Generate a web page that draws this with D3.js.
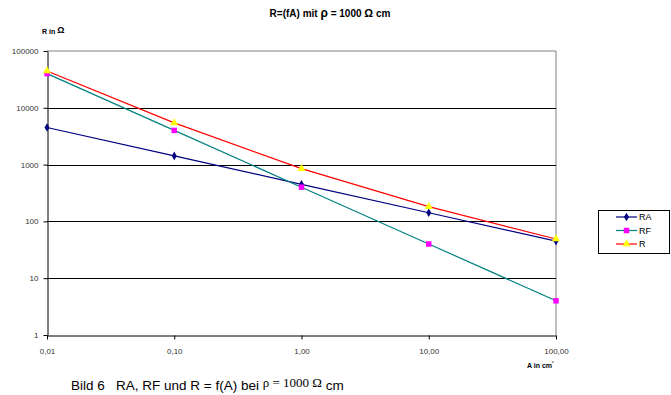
<!DOCTYPE html>
<html>
<head>
<meta charset="utf-8">
<script src="https://cdn.jsdelivr.net/npm/d3@7"></script>
<style>
  body { margin: 0; background: #fff; }
  svg { font-family: "Liberation Sans", Arial, sans-serif; }
</style>
</head>
<body>
<div id="main"></div>
<script>
const ctx = {
    w: 671,
    h: 395,
    left: 47,
    right: 556,
    top: 51,
    bottom: 335
};

// data
const areas = [0.01, 0.1, 1, 10, 100];
const raValues = [4500, 1420, 450, 142, 45];
const rfValues = [40000, 4000, 400, 40, 4];
const rValues = [44500, 5420, 850, 182, 49];
const xTickLabels = ["0,01", "0,10", "1,00", "10,00", "100,00"];
const yTicks = [1, 10, 100, 1000, 10000, 100000];

const series = [
    {name: "RA", values: raValues, line: "#000080", fill: "#000080", symbol: d3.symbolDiamond, size: 22},
    {name: "RF", values: rfValues, line: "#008080", fill: "#ff00ff", symbol: d3.symbolSquare, size: 30},
    {name: "R", values: rValues, line: "#ff0000", fill: "#ffff00", symbol: d3.symbolTriangle, size: 28}
];

function createViz(){
    let svg = d3.select("#main").append("svg")
        .attr("width", ctx.w)
        .attr("height", ctx.h);

    let x = d3.scaleLog().domain([0.01, 100]).range([ctx.left, ctx.right]);
    let y = d3.scaleLog().domain([1, 100000]).range([ctx.bottom, ctx.top]);

    // title
    let title = svg.append("text")
        .attr("x", 330).attr("y", 17)
        .attr("text-anchor", "middle")
        .style("font-size", "10px").style("font-weight", "bold");
    title.append("tspan").text("R=(fA) mit ");
    title.append("tspan").style("font-size", "12px").text("ρ");
    title.append("tspan").text(" = 1000 ");
    title.append("tspan").style("font-size", "11px").text("Ω");
    title.append("tspan").text(" cm");

    // y axis caption
    let yl = svg.append("text")
        .attr("x", 42).attr("y", 34)
        .style("font-size", "7px").style("font-weight", "bold");
    yl.append("tspan").text("R in ");
    yl.append("tspan").style("font-size", "9px").attr("dy", -1).text("Ω");

    // gray frame top / right
    svg.append("line")
        .attr("x1", ctx.left).attr("x2", ctx.right)
        .attr("y1", ctx.top).attr("y2", ctx.top)
        .attr("stroke", "#808080");
    svg.append("line")
        .attr("x1", ctx.right).attr("x2", ctx.right)
        .attr("y1", ctx.top).attr("y2", ctx.bottom)
        .attr("stroke", "#808080");

    // gridlines
    svg.append("g").selectAll("line")
        .data(yTicks.slice(1, -1))
        .enter().append("line")
        .attr("x1", ctx.left).attr("x2", ctx.right)
        .attr("y1", (d) => Math.round(y(d)) + 0.5)
        .attr("y2", (d) => Math.round(y(d)) + 0.5)
        .attr("stroke", "#000");

    // y axis
    let yAxis = svg.append("g")
        .attr("transform", `translate(${ctx.left + 0.5},0)`)
        .call(d3.axisLeft(y).tickValues(yTicks).tickFormat(d3.format("d"))
              .tickSizeInner(4).tickSizeOuter(0).tickPadding(5));
    yAxis.select(".domain").attr("stroke", "#000");
    yAxis.selectAll("text").style("font-size", "8px").attr("fill", "#333")
        .style("font-family", "Liberation Sans, Arial, sans-serif");

    // x axis
    let xAxis = svg.append("g")
        .attr("transform", `translate(0,${ctx.bottom + 0.5})`)
        .call(d3.axisBottom(x).tickValues(areas)
              .tickFormat((d, i) => xTickLabels[i])
              .tickSizeInner(4).tickSizeOuter(0).tickPadding(9));
    xAxis.select(".domain").attr("stroke", "#000");
    xAxis.selectAll("text").style("font-size", "8px").attr("fill", "#333")
        .style("font-family", "Liberation Sans, Arial, sans-serif");

    // x axis caption
    let xl = svg.append("text")
        .attr("x", 527).attr("y", 368)
        .style("font-size", "7px").style("font-weight", "bold");
    xl.append("tspan").text("A in cm");
    xl.append("tspan").attr("dy", -3).style("font-size", "5px").text("²");

    // series
    let lineGen = d3.line()
        .x((d) => x(d[0]))
        .y((d) => y(d[1]));

    series.forEach((s) => {
        let pts = areas.map((a, i) => [a, s.values[i]]);
        svg.append("path")
            .datum(pts)
            .attr("d", lineGen)
            .attr("fill", "none")
            .attr("stroke", s.line)
            .attr("stroke-width", 1.2);
    });
    series.forEach((s) => {
        let pts = areas.map((a, i) => [a, s.values[i]]);
        svg.append("g").selectAll("path")
            .data(pts)
            .enter().append("path")
            .attr("d", d3.symbol().type(s.symbol).size(s.size)())
            .attr("transform", (d) => `translate(${x(d[0])},${y(d[1])})`)
            .attr("fill", s.fill);
    });

    // legend
    let lg = svg.append("g").attr("transform", "translate(598,210)");
    lg.append("rect")
        .attr("x", 0.5).attr("y", 0.5)
        .attr("width", 71).attr("height", 43)
        .attr("fill", "#fff").attr("stroke", "#000");
    series.forEach((s, i) => {
        let yy = 7 + i * 13.5;
        lg.append("line")
            .attr("x1", 18).attr("x2", 39)
            .attr("y1", yy).attr("y2", yy)
            .attr("stroke", s.line).attr("stroke-width", 1.2);
        lg.append("path")
            .attr("d", d3.symbol().type(s.symbol).size(s.size)())
            .attr("transform", `translate(28.5,${yy})`)
            .attr("fill", s.fill);
        lg.append("text")
            .attr("x", 41).attr("y", yy + 3)
            .style("font-size", "9px")
            .text(s.name);
    });

    // caption below
    let cap = svg.append("text")
        .attr("x", 71).attr("y", 390)
        .style("font-size", "13.5px")
        .style("white-space", "pre");
    cap.append("tspan").text("Bild 6   RA, RF und R = f(A) bei ");
    cap.append("tspan").attr("dy", -3)
        .style("font-family", "Liberation Serif, Times New Roman, serif")
        .style("font-size", "13px")
        .text("ρ = 1000 Ω");
    cap.append("tspan").attr("dy", 3).text(" cm");
}

createViz();
</script>
</body>
</html>
